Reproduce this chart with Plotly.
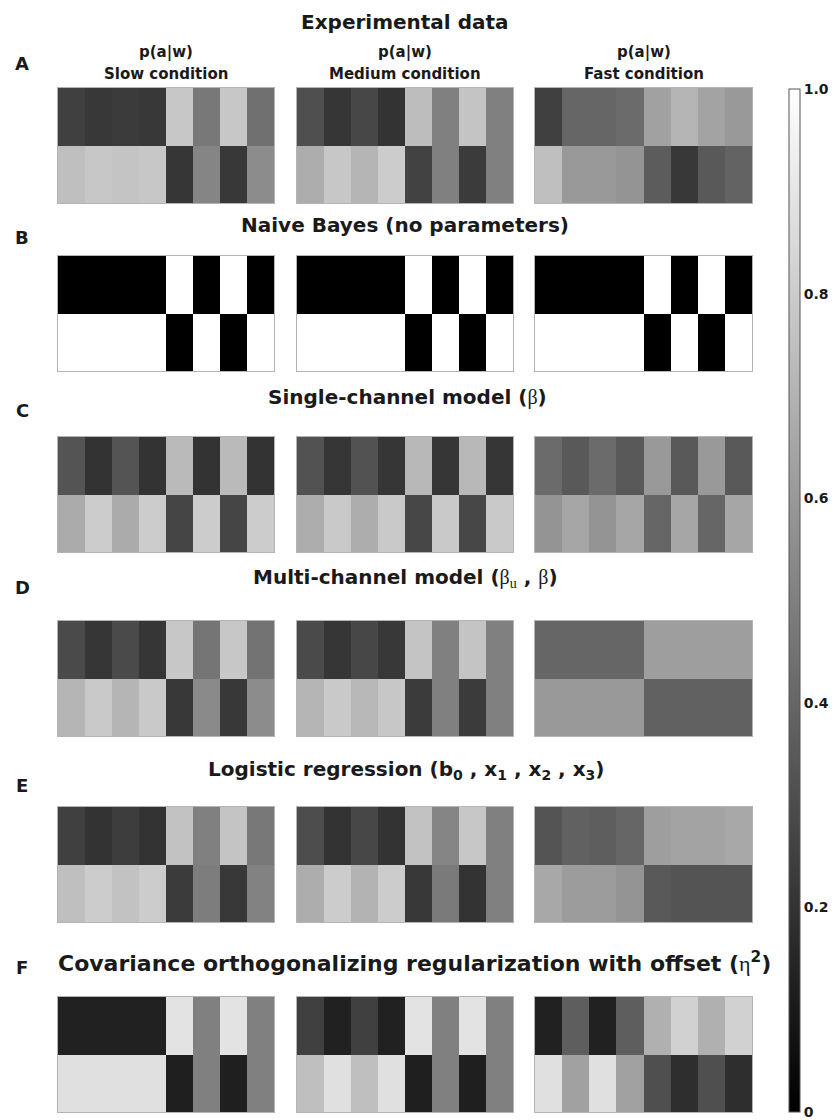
import plotly.graph_objects as go

# p(a|w): row 0 = first action, row 1 = second action; 8 world states per condition
CONDITIONS = ["Slow condition", "Medium condition", "Fast condition"]

EXP_SLOW = [[0.25, 0.22, 0.23, 0.22, 0.78, 0.47, 0.78, 0.44],
            [0.75, 0.78, 0.77, 0.78, 0.21, 0.52, 0.22, 0.55]]
EXP_MEDIUM = [[0.31, 0.21, 0.28, 0.20, 0.74, 0.50, 0.77, 0.50],
              [0.68, 0.78, 0.71, 0.80, 0.26, 0.50, 0.23, 0.50]]
EXP_FAST = [[0.25, 0.40, 0.40, 0.42, 0.63, 0.71, 0.64, 0.60],
            [0.75, 0.60, 0.60, 0.58, 0.36, 0.22, 0.35, 0.39]]

NB_SLOW = [[0, 0, 0, 0, 1, 0, 1, 0],
           [1, 1, 1, 1, 0, 1, 0, 1]]
NB_MEDIUM = [[0, 0, 0, 0, 1, 0, 1, 0],
             [1, 1, 1, 1, 0, 1, 0, 1]]
NB_FAST = [[0, 0, 0, 0, 1, 0, 1, 0],
           [1, 1, 1, 1, 0, 1, 0, 1]]

SC_SLOW = [[0.33, 0.20, 0.33, 0.20, 0.73, 0.20, 0.73, 0.20],
           [0.67, 0.80, 0.67, 0.80, 0.27, 0.80, 0.27, 0.80]]
SC_MEDIUM = [[0.32, 0.21, 0.32, 0.21, 0.72, 0.21, 0.72, 0.21],
             [0.68, 0.79, 0.68, 0.79, 0.28, 0.79, 0.28, 0.79]]
SC_FAST = [[0.42, 0.35, 0.42, 0.35, 0.60, 0.35, 0.60, 0.35],
           [0.58, 0.65, 0.58, 0.65, 0.40, 0.65, 0.40, 0.65]]

MC_SLOW = [[0.29, 0.21, 0.29, 0.21, 0.78, 0.46, 0.78, 0.45],
           [0.71, 0.79, 0.71, 0.79, 0.22, 0.54, 0.22, 0.55]]
MC_MEDIUM = [[0.29, 0.21, 0.28, 0.22, 0.77, 0.50, 0.77, 0.50],
             [0.71, 0.79, 0.72, 0.78, 0.23, 0.50, 0.23, 0.50]]
MC_FAST = [[0.40, 0.40, 0.40, 0.40, 0.62, 0.62, 0.62, 0.62],
           [0.60, 0.60, 0.60, 0.60, 0.38, 0.38, 0.38, 0.38]]

LR_SLOW = [[0.25, 0.20, 0.24, 0.20, 0.76, 0.50, 0.77, 0.47],
           [0.75, 0.80, 0.76, 0.80, 0.23, 0.49, 0.22, 0.51]]
LR_MEDIUM = [[0.30, 0.20, 0.28, 0.20, 0.76, 0.52, 0.78, 0.50],
             [0.68, 0.80, 0.70, 0.80, 0.22, 0.48, 0.20, 0.50]]
LR_FAST = [[0.33, 0.38, 0.37, 0.40, 0.62, 0.64, 0.64, 0.66],
           [0.66, 0.61, 0.61, 0.58, 0.35, 0.33, 0.33, 0.33]]

CO_SLOW = [[0.13, 0.13, 0.13, 0.13, 0.89, 0.50, 0.89, 0.50],
           [0.88, 0.88, 0.88, 0.88, 0.12, 0.50, 0.12, 0.50]]
CO_MEDIUM = [[0.25, 0.13, 0.25, 0.13, 0.89, 0.50, 0.89, 0.50],
             [0.75, 0.88, 0.75, 0.88, 0.12, 0.50, 0.12, 0.50]]
CO_FAST = [[0.13, 0.37, 0.13, 0.37, 0.69, 0.82, 0.69, 0.82],
           [0.88, 0.63, 0.88, 0.63, 0.31, 0.18, 0.31, 0.18]]

GREEK = "<span style='font-family:Liberation Serif;font-weight:normal'>%s</span>"
PANEL_LETTERS = ["A", "B", "C", "D", "E", "F"]
ROW_TITLES = [
    "Experimental data",
    "Naive Bayes (no parameters)",
    "Single-channel model (" + GREEK % "β" + ")",
    "Multi-channel model (" + GREEK % "β<sub>u</sub>" + " , " + GREEK % "β" + ")",
    "Logistic regression (b<sub>0</sub> , x<sub>1</sub> , x<sub>2</sub> , x<sub>3</sub>)",
    "Covariance orthogonalizing regularization with offset (" + GREEK % "η" + "<sup>2</sup>)",
]
MODELS = [
    [EXP_SLOW, EXP_MEDIUM, EXP_FAST],
    [NB_SLOW, NB_MEDIUM, NB_FAST],
    [SC_SLOW, SC_MEDIUM, SC_FAST],
    [MC_SLOW, MC_MEDIUM, MC_FAST],
    [LR_SLOW, LR_MEDIUM, LR_FAST],
    [CO_SLOW, CO_MEDIUM, CO_FAST],
]
CBAR_TICKS = [0, 0.2, 0.4, 0.6, 0.8, 1.0]
CBAR_LABELS = ["0", "0.2", "0.4", "0.6", "0.8", "1.0"]

W, H = 835, 1120
FONT = "DejaVu Sans"
INK = "#1a1a1a"

# pixel geometry of the grid
col_px = [(58, 274), (297, 513), (535, 752)]
row_top_px = [88, 256, 437, 621, 807, 997]
panel_h = 115
title_y_px = [22, 225, 397, 578, 770, 962]
title_x_px = [405, 405, 407, 405, 406, 414]
title_size = [20, 20, 20, 20, 20, 22]
letter_y_px = [63, 237, 411, 587, 785, 967]


def px_x(v):
    return v / W


def px_y(v):
    return 1 - v / H


fig = go.Figure()
layout = {}
n = 0
for r, model in enumerate(MODELS):
    for c, z in enumerate(model):
        n += 1
        sfx = "" if n == 1 else str(n)
        fig.add_trace(go.Heatmap(
            z=z,
            zmin=0, zmax=1,
            colorscale=[[0, "#000000"], [1, "#ffffff"]],
            showscale=(n == 1),
            colorbar=dict(
                x=px_x(789), xanchor="left", xpad=0,
                y=px_y((89 + 1112) / 2), yanchor="middle", ypad=0,
                lenmode="pixels", len=1112 - 89,
                thicknessmode="pixels", thickness=11,
                outlinewidth=1, outlinecolor="#555555",
                tickvals=CBAR_TICKS,
                ticktext=["<b>%s</b>" % t for t in CBAR_LABELS],
                tickfont=dict(family=FONT, size=14, color=INK),
                ticks="",
            ),
            xaxis="x" + sfx, yaxis="y" + sfx,
            hoverinfo="skip",
        ))
        x0, x1 = col_px[c]
        y0 = row_top_px[r]
        y1 = y0 + panel_h
        layout["xaxis" + sfx] = dict(
            domain=[px_x(x0), px_x(x1)], anchor="y" + sfx,
            showticklabels=False, ticks="", showgrid=False, zeroline=False,
            showline=True, mirror=True, linecolor="#b4b4b4", linewidth=1,
        )
        layout["yaxis" + sfx] = dict(
            domain=[px_y(y1), px_y(y0)], anchor="x" + sfx,
            autorange="reversed",
            showticklabels=False, ticks="", showgrid=False, zeroline=False,
            showline=True, mirror=True, linecolor="#b4b4b4", linewidth=1,
        )

annotations = []
for r in range(6):
    annotations.append(dict(
        text="<b>%s</b>" % ROW_TITLES[r], x=px_x(title_x_px[r]), y=px_y(title_y_px[r]),
        xref="paper", yref="paper", xanchor="center", yanchor="middle",
        showarrow=False, font=dict(family=FONT, size=title_size[r], color=INK),
    ))
    annotations.append(dict(
        text="<b>%s</b>" % PANEL_LETTERS[r], x=px_x(22), y=px_y(letter_y_px[r]),
        xref="paper", yref="paper", xanchor="center", yanchor="middle",
        showarrow=False, font=dict(family=FONT, size=18, color=INK),
    ))
for c, name in enumerate(CONDITIONS):
    cx = (col_px[c][0] + col_px[c][1]) / 2
    annotations.append(dict(
        text="<b>p(a|w)</b>", x=px_x(cx), y=px_y(53),
        xref="paper", yref="paper", xanchor="center", yanchor="middle",
        showarrow=False, font=dict(family=FONT, size=15, color=INK),
    ))
    annotations.append(dict(
        text="<b>%s</b>" % name, x=px_x(cx), y=px_y(74),
        xref="paper", yref="paper", xanchor="center", yanchor="middle",
        showarrow=False, font=dict(family=FONT, size=15, color=INK),
    ))

fig.update_layout(
    width=W, height=H,
    margin=dict(l=0, r=0, t=0, b=0),
    paper_bgcolor="white", plot_bgcolor="white",
    showlegend=False,
    annotations=annotations,
    **layout,
)

fig.write_html("out.html")
